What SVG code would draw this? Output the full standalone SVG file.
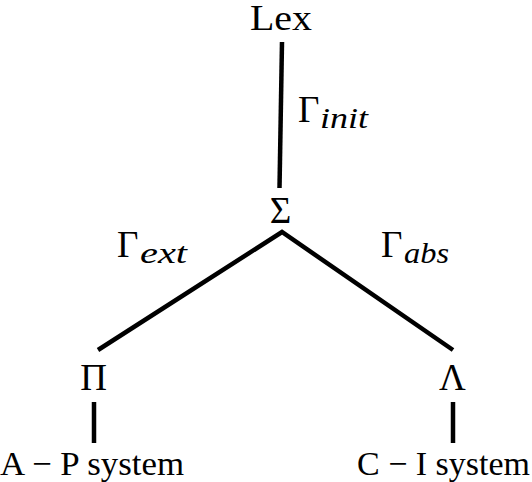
<svg xmlns="http://www.w3.org/2000/svg" width="532" height="482" viewBox="0 0 532 482">
<defs>
<line id="seg" x1="0" y1="0" x2="0" y2="41" stroke="#000" stroke-width="4.5"/>
</defs>
<rect width="532" height="482" fill="#fff"/>
<g id="connectors" stroke="#000" stroke-width="4.5" fill="none">
<line x1="282" y1="42" x2="279.5" y2="188"/>
<polyline points="98,350 282,232 453,350"/>
<line x1="94" y1="402" x2="94" y2="443"/>
<line x1="453" y1="402" x2="453" y2="443"/>
</g>
<g id="lex"><text style="font-family:'Liberation Serif',serif;font-size:35px" x="250" y="30" textLength="62" lengthAdjust="spacingAndGlyphs">Lex</text></g>
<g id="gamma-init"><text style="font-family:'Liberation Serif',serif;font-size:37px" x="298" y="122">Γ</text><text style="font-family:'Liberation Serif',serif;font-size:29px;font-style:italic" x="320" y="128" textLength="48" lengthAdjust="spacingAndGlyphs">init</text></g>
<g id="sigma"><text style="font-family:'Liberation Serif',serif;font-size:37px" x="280.5" y="223" text-anchor="middle">Σ</text></g>
<g id="gamma-ext"><text style="font-family:'Liberation Serif',serif;font-size:37px" x="117" y="257">Γ</text><text style="font-family:'Liberation Serif',serif;font-size:29px;font-style:italic" x="140" y="263" textLength="47" lengthAdjust="spacingAndGlyphs">ext</text></g>
<g id="gamma-abs"><text style="font-family:'Liberation Serif',serif;font-size:37px" x="381" y="257">Γ</text><text style="font-family:'Liberation Serif',serif;font-size:29px;font-style:italic" x="404" y="263" textLength="45" lengthAdjust="spacingAndGlyphs">abs</text></g>
<g id="pi"><text style="font-family:'Liberation Serif',serif;font-size:37px" x="93.5" y="390" text-anchor="middle">Π</text></g>
<g id="lambda"><text style="font-family:'Liberation Serif',serif;font-size:37px" x="452.5" y="390" text-anchor="middle">Λ</text></g>
<g id="ap"><text style="font-family:'Liberation Serif',serif;font-size:34px" x="0" y="475" textLength="184" lengthAdjust="spacingAndGlyphs">A − P system</text></g>
<g id="ci"><text style="font-family:'Liberation Serif',serif;font-size:34px" x="357" y="475" textLength="173" lengthAdjust="spacingAndGlyphs">C − I system</text></g>
</svg>
